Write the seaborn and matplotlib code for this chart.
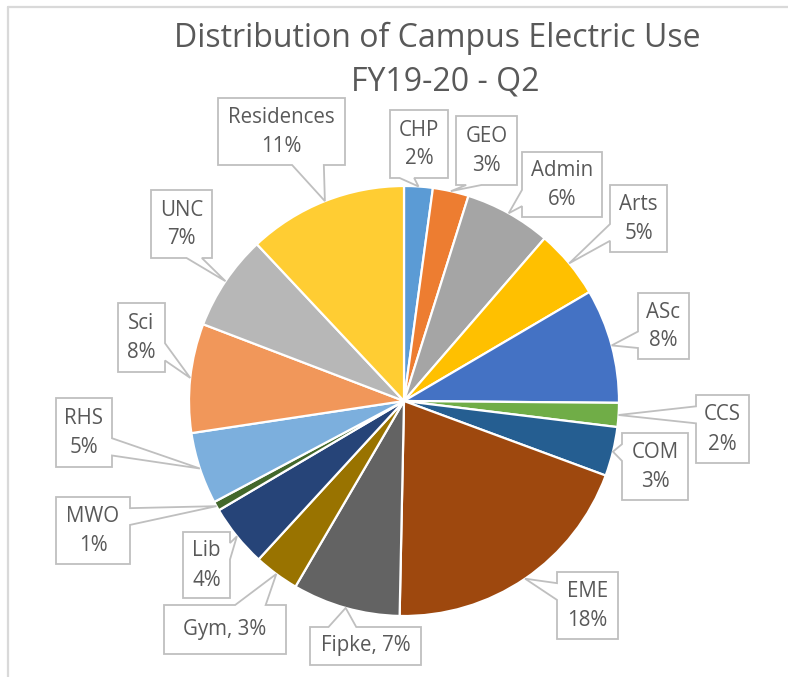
import matplotlib
matplotlib.use("Agg")
import numpy as np
import matplotlib.pyplot as plt
from matplotlib.patches import Polygon
import seaborn as sns

# ---------------- data ----------------
categories = ["CHP", "GEO", "Admin", "Arts", "ASc", "CCS", "COM", "EME",
              "Fipke", "Gym", "Lib", "MWO", "RHS", "Sci", "UNC", "Residences"]
# shares of campus electric use
shares = [2.15, 2.7, 6.5, 5.2, 8.6, 1.8, 3.7, 19.7,
          8.1, 3.4, 4.7, 0.7, 5.4, 8.2, 7.2, 12.0]
# percentages as printed in the data labels
label_pcts = [2, 3, 6, 5, 8, 2, 3, 18, 7, 3, 4, 1, 5, 8, 7, 11]
single_line_labels = ["Fipke", "Gym"]
title_lines = ["Distribution of Campus Electric Use", "FY19-20 - Q2"]

colors = ["#5B9BD5", "#ED7D31", "#A5A5A5", "#FFC000", "#4472C4", "#70AD47",
          "#255E91", "#9E480E", "#636363", "#997300", "#264478", "#43682B",
          "#7CAFDD", "#F1975A", "#B7B7B7", "#FFCD33"]

# ---------------- layout (pixels) ----------------
W, H = 788, 677
CX, CY, R = 404, 401, 215
label_boxes = {
    "CHP": (390, 110, 448, 178),
    "GEO": (456, 116, 517, 185),
    "Admin": (522, 152, 602, 217),
    "Arts": (610, 185, 667, 252),
    "ASc": (638, 293, 689, 359),
    "CCS": (696, 395, 749, 463),
    "COM": (622, 433, 688, 500),
    "EME": (557, 572, 618, 639),
    "Fipke": (310, 627, 421, 665),
    "Gym": (164, 605, 286, 654),
    "Lib": (183, 532, 230, 598),
    "MWO": (56, 497, 130, 564),
    "RHS": (56, 398, 112, 467),
    "Sci": (118, 303, 165, 372),
    "UNC": (151, 190, 212, 258),
    "Residences": (218, 98, 345, 165),
}

sns.set_theme(style="white")
plt.rcParams["font.family"] = ["Open Sans", "DejaVu Sans"]

TEXT_COLOR = "#595959"
BOX_EDGE = "#BFBFBF"
LABEL_SIZE = 14.8
TITLE_SIZE = 23

fig = plt.figure(figsize=(W / 100, H / 100), dpi=100)
fig.patch.set_facecolor("white")

# pie axes
pie_ax = fig.add_axes([(CX - R) / W, (H - CY - R) / H, 2 * R / W, 2 * R / H])
wedges, _ = pie_ax.pie(shares, colors=colors, startangle=90, counterclock=False,
                       radius=1.0,
                       wedgeprops=dict(edgecolor="white", linewidth=1.6))
pie_ax.set_xlim(-1, 1)
pie_ax.set_ylim(-1, 1)
pie_ax.set_aspect("equal")
pie_ax.axis("off")

# overlay axes in pixel coordinates
over = fig.add_axes([0, 0, 1, 1])
over.set_xlim(0, W)
over.set_ylim(H, 0)
over.axis("off")

# chart-area frame (top and left edges visible)
over.plot([8, 8], [7, H], color="#D9D9D9", lw=1.6, clip_on=False)
over.plot([8, W], [7, 7], color="#D9D9D9", lw=1.6, clip_on=False)

# title
over.text(437, 47, title_lines[0], ha="center", va="baseline",
          fontsize=TITLE_SIZE, color=TEXT_COLOR)
over.text(445, 90, title_lines[1], ha="center", va="baseline",
          fontsize=TITLE_SIZE, color=TEXT_COLOR)


def callout(box, tip):
    x0, y0, x1, y1 = box
    w, h = x1 - x0, y1 - y0
    cx, cy = (x0 + x1) / 2, (y0 + y1) / 2
    tx, ty = tip
    dx, dy = (tx - cx) / w, (ty - cy) / h
    if abs(dx) >= abs(dy):
        fr = (2 / 12, 5 / 12) if ty < cy else (7 / 12, 10 / 12)
        ya, yb = y0 + fr[0] * h, y0 + fr[1] * h
        if dx < 0:
            pts = [(x0, y0), (x1, y0), (x1, y1), (x0, y1), (x0, yb), (tx, ty), (x0, ya)]
        else:
            pts = [(x0, y0), (x1, y0), (x1, ya), (tx, ty), (x1, yb), (x1, y1), (x0, y1)]
    else:
        fr = (2 / 12, 5 / 12) if tx < cx else (7 / 12, 10 / 12)
        xa, xb = x0 + fr[0] * w, x0 + fr[1] * w
        if dy < 0:
            pts = [(x0, y0), (xa, y0), (tx, ty), (xb, y0), (x1, y0), (x1, y1), (x0, y1)]
        else:
            pts = [(x0, y0), (x1, y0), (x1, y1), (xb, y1), (tx, ty), (xa, y1), (x0, y1)]
    over.add_patch(Polygon(pts, closed=True, facecolor="white", edgecolor=BOX_EDGE,
                           lw=1.3, joinstyle="miter", zorder=3))


for wdg, name, pct in zip(wedges, categories, label_pcts):
    theta = np.deg2rad((wdg.theta1 + wdg.theta2) / 2)
    tip = (CX + R * np.cos(theta), CY - R * np.sin(theta))
    box = label_boxes[name]
    callout(box, tip)
    bx, by = (box[0] + box[2]) / 2, (box[1] + box[3]) / 2
    if name in single_line_labels:
        over.text(bx, by, f"{name}, {pct}%", ha="center", va="center",
                  fontsize=LABEL_SIZE, color=TEXT_COLOR, zorder=4)
    else:
        over.text(bx, by - 14, name, ha="center", va="center",
                  fontsize=LABEL_SIZE, color=TEXT_COLOR, zorder=4)
        over.text(bx, by + 15, f"{pct}%", ha="center", va="center",
                  fontsize=LABEL_SIZE, color=TEXT_COLOR, zorder=4)

fig.savefig("out.png", dpi=100, facecolor="white")
